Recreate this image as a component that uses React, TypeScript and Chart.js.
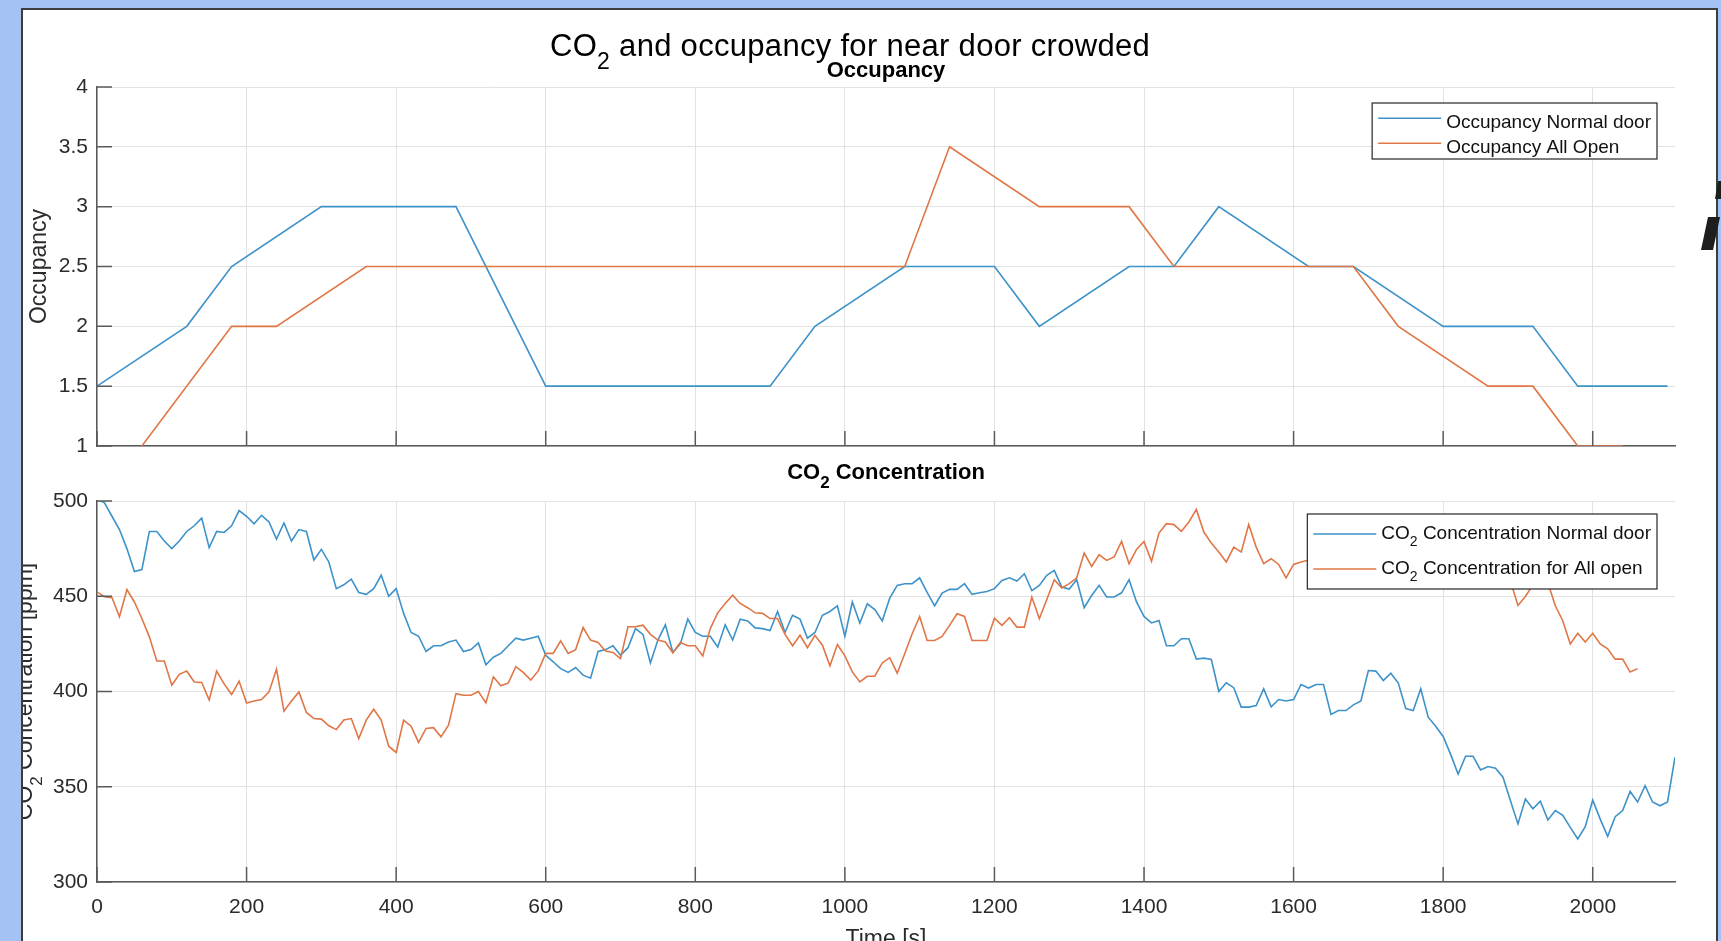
import React, { useEffect, useRef } from "react";
import { Chart, registerables } from "chart.js";

Chart.register(...registerables);

// ---------- data ----------

// Occupancy breakpoints (time in s, persons)
const OCC_NORMAL_T = [0, 120, 180, 300, 480, 600, 900, 960, 1080, 1200, 1260, 1380, 1440, 1500, 1620, 1680, 1800, 1920, 1980, 2100];
const OCC_NORMAL = [1.5, 2, 2.5, 3, 3, 1.5, 1.5, 2, 2.5, 2.5, 2, 2.5, 2.5, 3, 2.5, 2.5, 2, 2, 1.5, 1.5];
const OCC_OPEN_T = [60, 180, 240, 360, 1080, 1140, 1260, 1380, 1440, 1680, 1740, 1860, 1920, 1980, 2040];
const OCC_OPEN = [1, 2, 2, 2.5, 2.5, 3.5, 3, 3, 2.5, 2.5, 2, 1.5, 1.5, 1, 1];

// CO2 samples, one every CO2_STEP_S seconds starting at t = 0
const CO2_STEP_S = 10;
const CO2_NORMAL = [
  501, 499, 492, 485, 475, 463, 464, 484, 484, 479,
  475, 479, 484, 487, 491, 475.5, 484, 483.5, 487, 495,
  492, 488, 492.5, 489, 480, 488.5, 479, 485, 484, 469,
  474.6, 468, 454, 456, 459, 452, 451, 454, 461, 450,
  454, 441, 431, 429, 421, 424, 424, 426, 427, 421,
  422, 425.5, 414, 418, 420, 424, 428, 427, 428, 429,
  419, 415.6, 412, 410, 412.6, 408.6, 407, 421, 422, 424,
  419, 423, 433, 430, 415, 427, 435, 420.5, 425, 438,
  431, 429, 429, 423.4, 435, 427, 438, 437, 433.4, 433,
  432, 442, 431, 440, 438, 428, 431, 440, 442, 445,
  429, 447, 436, 446, 443, 437, 449, 455.7, 456.6, 456.6,
  459.7, 452, 445, 451.7, 453.6, 453.6, 456.6, 451, 451.8, 452.5,
  454, 458.3, 459.7, 458, 461.8, 453, 455.7, 461, 463.6, 454.8,
  453.8, 458.7, 444, 450.4, 455.7, 449.6, 449.6, 451.8, 458.7, 447,
  439.4, 436, 437.3, 424, 424, 427.7, 427.7, 417, 417.5, 416.8,
  400, 404.6, 402, 391.8, 391.8, 392.6, 401.4, 392, 395.8, 395,
  395.8, 403.7, 401.8, 403.7, 403.7, 388, 390, 390, 393, 395,
  411, 410.7, 405.8, 409.6, 404.4, 391, 390, 401.4, 386.5, 381.8,
  376.4, 367, 356.7, 366, 366, 358.8, 360.6, 359.7, 355, 342.7,
  330.5, 343.6, 338.4, 342.4, 332.6, 337.5, 335, 328.7, 322.6, 329,
  343, 333, 324, 334.3, 337.5, 347.5, 342, 350.6, 342, 340,
  342, 365.5,
];
const CO2_OPEN = [
  452.3, 449.7, 449.3, 439.2, 453.5, 447, 438.3, 428.7, 416, 416,
  403.3, 409, 410.7, 405, 404.7, 395.5, 410.7, 404, 398.4, 405.4,
  394, 395, 395.8, 399.8, 411.7, 389.7, 395, 399.8, 389, 385.8,
  385.5, 382, 380, 385, 385.8, 375.3, 385, 390.7, 385, 371.3,
  368, 385, 381.8, 373.3, 380.6, 381, 376.2, 382.3, 398.9, 398,
  398, 400, 394, 407.7, 403, 404.5, 413, 410, 406, 410.8,
  420, 420, 426.6, 420, 422, 433.6, 427, 425.7, 421.3, 420.5,
  417.3, 434, 434, 434.8, 430, 427, 426, 420.3, 425.7, 424,
  424, 418.7, 433, 441.3, 446.2, 450.5, 446.2, 444, 441.3, 441,
  438.3, 438.3, 430, 424, 429.5, 423, 429.5, 424.3, 413.5, 424.7,
  418.7, 410.3, 405, 408, 408, 415, 417.8, 409.6, 419.8, 430.3,
  439.4, 426.8, 426.8, 428.9, 434.7, 440.8, 439.4, 426.8, 426.8, 426.8,
  438.5, 434.7, 438.7, 433.8, 433.8, 449.6, 438.2, 448.3, 458.7, 454.3,
  456.6, 459.7, 472.7, 465.7, 471.8, 468.8, 470.6, 478.8, 467.1, 474.6,
  478.8, 468.3, 483.2, 488.1, 487.6, 484.1, 489, 495.6, 483.7, 477.9,
  473.2, 468, 475.8, 473.2, 487.6, 475.8, 467.1, 469.7, 466.7, 459.7,
  466.7, 468, 469, 466, 471, 467, 463, 468, 464, 460,
  465, 470, 466, 462, 467, 463, 458, 462, 467, 463,
  459, 464, 460, 456, 461, 457, 462, 458, 463, 458,
  445.2, 449.9, 456, 462, 457, 445, 437, 425, 430.6, 426,
  430.6, 425, 422.4, 417, 417, 410.2, 412,
];

// Axis ranges and tick steps
const TIME_MIN = 0;
const TIME_MAX = 2110;
const TIME_STEP = 200;
const OCC_MIN = 1;
const OCC_MAX = 4;
const OCC_STEP = 0.5;
const CO2_MIN = 300;
const CO2_MAX = 500;
const CO2_TICK_STEP = 50;

// ---------- text ----------

type Seg = { text: string; sub?: boolean };
const tx = (text: string): Seg => ({ text });
const sb = (text: string): Seg => ({ text, sub: true });

const MAIN_TITLE: Seg[] = [tx("CO"), sb("2"), tx(" and occupancy for near door crowded")];
const OCC_TITLE: Seg[] = [tx("Occupancy")];
const CO2_TITLE: Seg[] = [tx("CO"), sb("2"), tx(" Concentration")];
const OCC_YLABEL = "Occupancy";
const CO2_YLABEL: Seg[] = [tx("CO"), sb("2"), tx(" Concentration [ppm]")];
const TIME_LABEL = "Time [s]";
const OCC_LEGEND: Seg[][] = [[tx("Occupancy Normal door")], [tx("Occupancy All Open")]];
const CO2_LEGEND: Seg[][] = [
  [tx("CO"), sb("2"), tx(" Concentration Normal door")],
  [tx("CO"), sb("2"), tx(" Concentration for All open")],
];

// ---------- style ----------

const FONT = "'Liberation Sans', Arial, Helvetica, sans-serif";
const BLUE = "#3d92c9";
const ORANGE = "#e07646";
const GRID = "#e2e2e2";
const AXIS = "#5a5a5a";
const LABEL = "#2b2b2b";
const LINE_W = 1.6;
const TICK_LEN = 15;
const W = 1721;
const H = 1000;

function richWidth(ctx: CanvasRenderingContext2D, segs: Seg[], size: number, weight: string) {
  let w = 0;
  for (const s of segs) {
    ctx.font = `${weight} ${s.sub ? Math.round(size * 0.75) : size}px ${FONT}`;
    w += ctx.measureText(s.text).width;
  }
  return w;
}

function drawRich(
  ctx: CanvasRenderingContext2D,
  segs: Seg[],
  x: number,
  y: number,
  size: number,
  weight: string,
  color: string,
  align: "left" | "center"
) {
  const total = richWidth(ctx, segs, size, weight);
  let cx = align === "center" ? x - total / 2 : x;
  ctx.fillStyle = color;
  ctx.textAlign = "left";
  ctx.textBaseline = "alphabetic";
  for (const s of segs) {
    ctx.font = `${weight} ${s.sub ? Math.round(size * 0.75) : size}px ${FONT}`;
    ctx.fillText(s.text, cx, s.sub ? y + size * 0.42 : y);
    cx += ctx.measureText(s.text).width;
  }
}

// tick marks pointing into the plot area
const inwardTicks = {
  id: "inwardTicks",
  afterDatasetsDraw(chart: any) {
    const { ctx, chartArea: a, scales } = chart;
    ctx.save();
    ctx.strokeStyle = AXIS;
    ctx.lineWidth = 1.5;
    ctx.beginPath();
    for (const tk of scales.x.ticks) {
      const px = scales.x.getPixelForValue(tk.value);
      ctx.moveTo(px, a.bottom);
      ctx.lineTo(px, a.bottom - TICK_LEN);
    }
    for (const tk of scales.y.ticks) {
      const py = scales.y.getPixelForValue(tk.value);
      ctx.moveTo(a.left, py);
      ctx.lineTo(a.left + TICK_LEN, py);
    }
    ctx.stroke();
    ctx.restore();
  },
};

function boxedLegend(
  id: string,
  labels: Seg[][],
  opt: { top: number; firstRow: number; rowGap: number; height: number; textDy: number }
) {
  return {
    id,
    afterDraw(chart: any) {
      const { ctx, chartArea: a } = chart;
      const size = 19;
      ctx.save();
      const textW = Math.max(...labels.map((l) => richWidth(ctx, l, size, "normal")));
      const w = 6 + 63 + 5 + textW + 6;
      const right = a.right - 18;
      const left = right - w;
      const top = a.top + opt.top;
      ctx.fillStyle = "#ffffff";
      ctx.fillRect(left, top, w, opt.height);
      ctx.strokeStyle = "#262626";
      ctx.lineWidth = 1.2;
      ctx.strokeRect(left, top, w, opt.height);
      labels.forEach((l, i) => {
        const y = top + opt.firstRow + i * opt.rowGap;
        ctx.strokeStyle = chart.data.datasets[i].borderColor;
        ctx.lineWidth = LINE_W;
        ctx.beginPath();
        ctx.moveTo(left + 6, y);
        ctx.lineTo(left + 69, y);
        ctx.stroke();
        drawRich(ctx, l, left + 74, y + opt.textDy, size, "normal", "#111111", "left");
      });
      ctx.restore();
    },
  };
}

const occupancyTitles = {
  id: "occupancyTitles",
  afterDraw(chart: any) {
    const { ctx, chartArea: a } = chart;
    ctx.save();
    (ctx as any).letterSpacing = "0.3px";
    drawRich(ctx, MAIN_TITLE, 850, 56, 31, "normal", "#000000", "center");
    (ctx as any).letterSpacing = "0px";
    drawRich(ctx, OCC_TITLE, (a.left + a.right) / 2, 77, 22, "bold", "#000000", "center");
    ctx.restore();
  },
};

const co2Titles = {
  id: "co2Titles",
  afterDraw(chart: any) {
    const { ctx, chartArea: a } = chart;
    ctx.save();
    drawRich(ctx, CO2_TITLE, (a.left + a.right) / 2, 479, 22, "bold", "#000000", "center");
    ctx.translate(32, (a.top + a.bottom) / 2);
    ctx.rotate(-Math.PI / 2);
    drawRich(ctx, CO2_YLABEL, 0, 0, 23, "normal", LABEL, "center");
    ctx.restore();
  },
};

const tickFont = { family: FONT, size: 21 };

function timeAxis(showLabels: boolean, fitHeight: number) {
  return {
    type: "linear" as const,
    min: TIME_MIN,
    max: TIME_MAX,
    ticks: {
      display: showLabels,
      stepSize: TIME_STEP,
      includeBounds: false,
      autoSkip: false,
      maxRotation: 0,
      font: tickFont,
      color: LABEL,
      padding: 13,
      callback: (v: any) => String(v),
    },
    grid: { color: GRID, lineWidth: 1, drawTicks: false },
    border: { display: true, color: AXIS, width: 1.5 },
    title: showLabels
      ? { display: true, text: TIME_LABEL, color: LABEL, font: { family: FONT, size: 23 }, padding: { top: 0, bottom: 29 } }
      : { display: false },
    afterFit: (s: any) => {
      s.height = fitHeight;
    },
  };
}

function valueAxis(min: number, max: number, step: number, title: any) {
  return {
    type: "linear" as const,
    min,
    max,
    ticks: {
      stepSize: step,
      includeBounds: false,
      font: tickFont,
      color: LABEL,
      padding: 9,
      callback: (v: any) => String(v),
    },
    grid: { color: GRID, lineWidth: 1, drawTicks: false },
    border: { display: true, color: AXIS, width: 1.5 },
    title,
    afterFit: (s: any) => {
      s.width = 97;
    },
  };
}

const baseOptions = {
  animation: false as const,
  responsive: false,
  devicePixelRatio: 1,
  events: [] as any[],
  elements: { point: { radius: 0 }, line: { borderWidth: LINE_W, tension: 0 } },
};

export default function App() {
  const topRef = useRef<HTMLCanvasElement>(null);
  const bottomRef = useRef<HTMLCanvasElement>(null);

  useEffect(() => {
    const occChart = new Chart(topRef.current!, {
      type: "line",
      data: {
        datasets: [
          {
            label: "Occupancy Normal door",
            data: OCC_NORMAL_T.map((t, i) => ({ x: t, y: OCC_NORMAL[i] })),
            borderColor: BLUE,
            backgroundColor: BLUE,
            order: 1,
          },
          {
            label: "Occupancy All Open",
            data: OCC_OPEN_T.map((t, i) => ({ x: t, y: OCC_OPEN[i] })),
            borderColor: ORANGE,
            backgroundColor: ORANGE,
            order: 0,
          },
        ],
      },
      options: {
        ...baseOptions,
        layout: { padding: { left: 0, top: 87, right: W - 1675, bottom: H - 446 } },
        plugins: { legend: { display: false }, tooltip: { enabled: false }, title: { display: false } },
        scales: {
          x: timeAxis(false, 0),
          y: valueAxis(OCC_MIN, OCC_MAX, OCC_STEP, {
            display: true,
            text: OCC_YLABEL,
            color: LABEL,
            font: { family: FONT, size: 23 },
            padding: { top: 26, bottom: 0 },
          }),
        },
      } as any,
      plugins: [inwardTicks, boxedLegend("occLegend", OCC_LEGEND, { top: 16, firstRow: 15.3, rowGap: 25, height: 56, textDy: 9.5 }), occupancyTitles],
    });

    const co2Chart = new Chart(bottomRef.current!, {
      type: "line",
      data: {
        datasets: [
          {
            label: "CO2 Concentration Normal door",
            data: CO2_NORMAL.map((v, i) => ({ x: i * CO2_STEP_S, y: v })),
            borderColor: BLUE,
            backgroundColor: BLUE,
            order: 1,
          },
          {
            label: "CO2 Concentration for All open",
            data: CO2_OPEN.map((v, i) => ({ x: i * CO2_STEP_S, y: v })),
            borderColor: ORANGE,
            backgroundColor: ORANGE,
            order: 0,
          },
        ],
      },
      options: {
        ...baseOptions,
        layout: { padding: { left: 0, top: 501, right: W - 1675, bottom: H - 882 - 100 } },
        plugins: { legend: { display: false }, tooltip: { enabled: false }, title: { display: false } },
        scales: {
          x: timeAxis(true, 100),
          y: valueAxis(CO2_MIN, CO2_MAX, CO2_TICK_STEP, { display: false }),
        },
      } as any,
      plugins: [inwardTicks, boxedLegend("co2Legend", CO2_LEGEND, { top: 13, firstRow: 20, rowGap: 35, height: 75, textDy: 4.5 }), co2Titles],
    });

    return () => {
      occChart.destroy();
      co2Chart.destroy();
    };
  }, []);

  const canvasStyle: React.CSSProperties = { position: "absolute", left: -23, top: -10, width: W, height: H };

  return (
    <div style={{ position: "fixed", inset: 0, overflow: "hidden", background: "#a4c2f4" }}>
      <div
        style={{
          position: "absolute",
          left: 21,
          top: 8,
          width: 1697,
          height: 1000,
          boxSizing: "border-box",
          border: "2px solid #3d3d3d",
          background: "#ffffff",
          overflow: "hidden",
        }}
      >
        <canvas ref={topRef} width={W} height={H} style={canvasStyle} />
        <canvas ref={bottomRef} width={W} height={H} style={canvasStyle} />
      </div>
      <div
        style={{
          position: "absolute",
          left: 1695,
          top: 175,
          width: 26,
          height: 80,
          background: "#1e1e1e",
          clipPath: "polygon(6px 75px, 18px 75px, 25px 42px, 13px 42px)",
        }}
      />
      <div
        style={{
          position: "absolute",
          left: 1695,
          top: 175,
          width: 26,
          height: 80,
          background: "#1e1e1e",
          clipPath: "polygon(20px 24px, 26px 24px, 26px 6px, 23px 6px)",
        }}
      />
    </div>
  );
}
